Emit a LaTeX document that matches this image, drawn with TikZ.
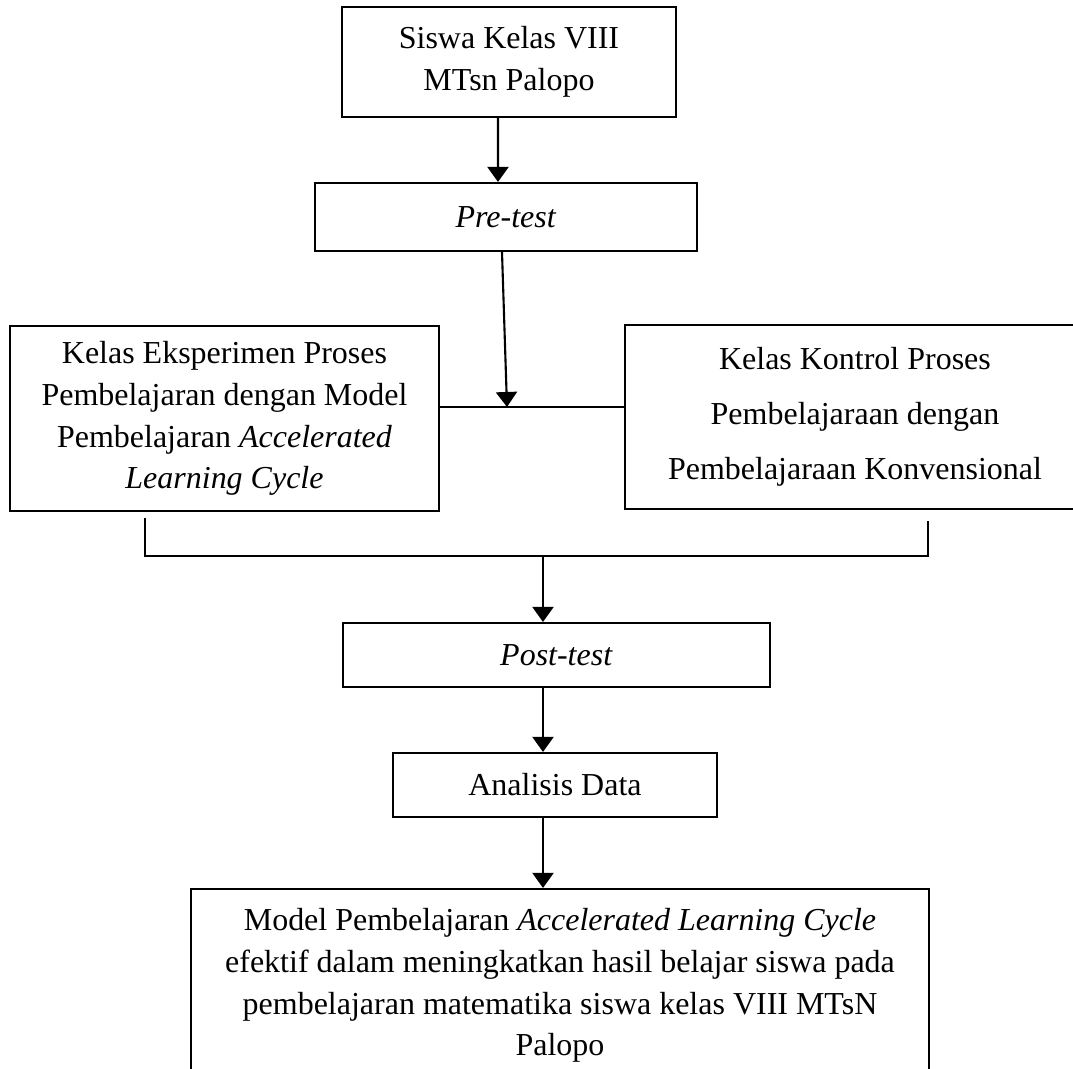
\documentclass[tikz,border=0pt]{standalone}
\usepackage{fontspec}
\setmainfont{Liberation Serif}
\usepackage{tikz}
\usetikzlibrary{arrows.meta}

\begin{document}
\begin{tikzpicture}[>={Triangle[length=1.5mm,width=2.1mm]}, line width=0.6pt,
    kotak/.style={draw, align=center, inner sep=2pt, font=\fontsize{9.1}{11.9}\selectfont}]
    % 画布大小 (右框和下框被裁掉)
    \useasboundingbox (0,0) rectangle (10.73,-10.69);
    \clip (0,0) rectangle (10.73,-10.69);

    % 绘制各个方框
    \node[kotak, minimum width=3.34cm, minimum height=1.10cm] (siswa) at (5.09,-0.62) {Siswa Kelas VIII\\MTsn Palopo};
    \node[kotak, minimum width=3.82cm, minimum height=0.68cm] (pretest) at (5.06,-2.17) {\textit{Pre-test}};
    \node[kotak, minimum width=4.29cm, minimum height=1.85cm] (eksperimen) at (2.245,-4.185)
        {Kelas Eksperimen Proses\\Pembelajaran dengan Model\\Pembelajaran \textit{Accelerated}\\\textit{Learning Cycle}};
    \node[kotak, minimum width=4.60cm, minimum height=1.84cm, font=\fontsize{9.1}{15.6}\selectfont] (kontrol) at (8.55,-4.17)
        {Kelas Kontrol Proses\\Pembelajaraan dengan\\Pembelajaraan Konvensional};
    \node[kotak, minimum width=4.27cm, minimum height=0.64cm] (posttest) at (5.565,-6.55) {\textit{Post-test}};
    \node[kotak, minimum width=3.24cm, minimum height=0.64cm] (analisis) at (5.55,-7.85) {Analisis Data};
    \node[kotak, minimum width=7.38cm, minimum height=1.93cm] (kesimpulan) at (5.60,-9.855)
        {Model Pembelajaran \textit{Accelerated Learning Cycle}\\efektif dalam meningkatkan hasil belajar siswa pada\\pembelajaran matematika siswa kelas VIII MTsN\\Palopo};

    % 连接点
    \coordinate (titik) at (5.07,-4.07);
    \coordinate (kiri) at (1.45,-5.18);
    \coordinate (kanan) at (9.28,-5.21);
    \coordinate (gabung) at (5.43,-5.56);

    % 绘制箭头和连线
    \draw[->] ([xshift=-1.1mm]siswa.south) -- ([xshift=-0.8mm]pretest.north);
    \draw[->] ([xshift=-0.4mm]pretest.south) -- (titik);
    \draw (eksperimen.east |- titik) -- (kontrol.west |- titik);
    \draw (kiri) |- (kanan |- gabung) -- (kanan);
    \draw[->] (gabung) -- (posttest.north -| gabung);
    \draw[->] (posttest.south -| gabung) -- (analisis.north -| gabung);
    \draw[->] (analisis.south -| gabung) -- (kesimpulan.north -| gabung);
\end{tikzpicture}
\end{document}
